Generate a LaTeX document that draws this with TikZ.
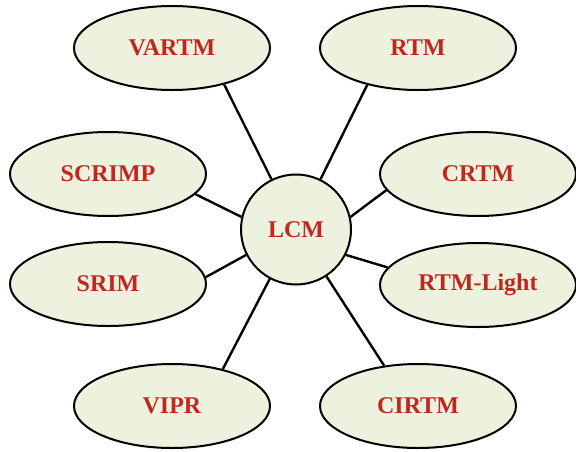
\documentclass[tikz,border=0pt]{standalone}
\usepackage{fontspec}
\setmainfont{Liberation Serif}
\usetikzlibrary{shapes.geometric}
\definecolor{fillc}{HTML}{EDF1DE}
\definecolor{textc}{HTML}{C0281E}
\begin{document}
\begin{tikzpicture}[x=1pt,y=-1pt,
  leaf/.style={ellipse,draw=black,line width=2pt,fill=fillc,minimum width=196pt,minimum height=84pt,inner sep=0pt,
    font=\fontsize{24}{24}\selectfont\bfseries,text=textc},
  hub/.style={circle,draw=black,line width=2pt,fill=fillc,minimum size=110pt,inner sep=0pt,
    font=\fontsize{24}{24}\selectfont\bfseries,text=textc},
  link/.style={line width=2.4pt}]
\useasboundingbox (0,0) rectangle (576,451);
\node[hub] (lcm) at (296,229.5) {LCM};
\node[leaf] (vartm) at (172,48) {VARTM};
\node[leaf] (rtm) at (418,48) {RTM};
\node[leaf] (scrimp) at (108,174) {SCRIMP};
\node[leaf] (crtm) at (478,174) {CRTM};
\node[leaf] (srim) at (108,284) {SRIM};
\node[leaf] (rtml) at (478,285) {RTM-Light};
\node[leaf] (vipr) at (172,406) {VIPR};
\node[leaf] (cirtm) at (418,406) {CIRTM};
\draw[link] (lcm.116) -- (vartm.-35.6);
\draw[link] (lcm.64) -- (rtm.-144.4);
\draw[link] (lcm.167) -- (scrimp.-13);
\draw[link] (lcm.207.5) -- (srim.4);
\draw[link] (lcm.13) -- (crtm.190.7);
\draw[link] (lcm.-27.5) -- (rtml.169);
\draw[link] (lcm.242.3) -- (vipr.36.7);
\draw[link] (lcm.-57.7) -- (cirtm.130);
\end{tikzpicture}
\end{document}
